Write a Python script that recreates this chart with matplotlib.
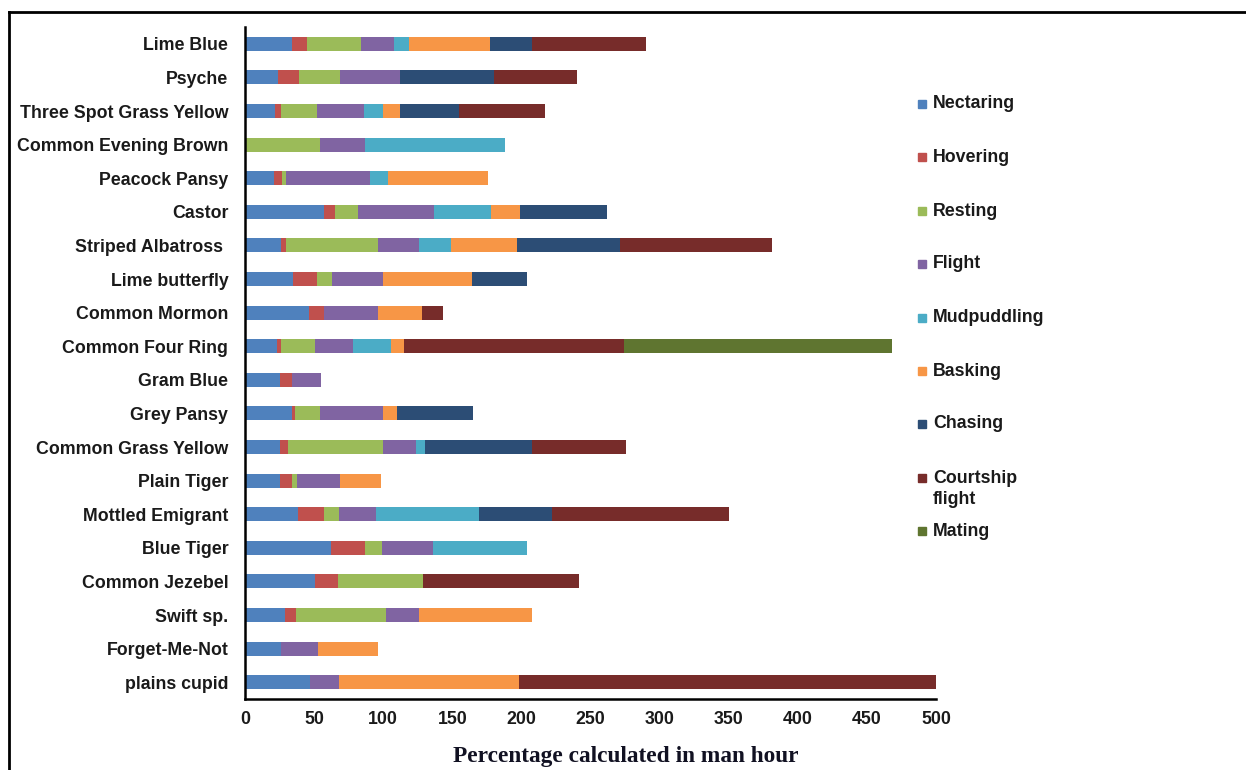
import numpy as np
import matplotlib.pyplot as plt
from matplotlib.patches import Rectangle
from matplotlib.lines import Line2D

# Species, top to bottom
species = ['Lime Blue', 'Psyche', 'Three Spot Grass Yellow', 'Common Evening Brown',
           'Peacock Pansy', 'Castor', 'Striped Albatross ', 'Lime butterfly',
           'Common Mormon', 'Common Four Ring', 'Gram Blue', 'Grey Pansy',
           'Common Grass Yellow', 'Plain Tiger', 'Mottled Emigrant', 'Blue Tiger',
           'Common Jezebel', 'Swift sp.', 'Forget-Me-Not', 'plains cupid']

# Behaviour time per species (percentage calculated in man hour)
nectaring   = [34, 24, 22, 0, 21, 57, 26, 35, 46, 23, 25, 34, 25, 25, 38, 62, 51, 29, 26, 47]
hovering    = [11, 15, 4, 0, 5.5, 8, 4, 17, 11, 3, 9, 2, 6, 9, 19, 25, 16, 8, 0, 0]
resting     = [39, 30, 26, 54, 3.5, 17, 66, 11, 0, 25, 0, 18, 69, 3.5, 11, 12, 62, 65, 0, 0]
flight      = [24, 43, 34, 33, 60.5, 55, 30, 37, 39, 27, 21, 46, 24, 31, 27, 37, 0, 24, 27, 21]
mudpuddling = [11, 0, 14, 101, 13, 41, 23, 0, 0, 28, 0, 0, 6.5, 0, 74, 68, 0, 0, 0, 0]
basking     = [58, 0, 12, 0, 72, 21, 48, 64, 32, 9, 0, 10, 0, 30, 0, 0, 0, 82, 43, 130]
chasing     = [31, 68, 43, 0, 0, 63, 74, 40, 0, 0, 0, 55, 77, 0, 53, 0, 0, 0, 0, 0]
courtship   = [82, 60, 62, 0, 0, 0, 110, 0, 15, 159, 0, 0, 68, 0, 128, 0, 113, 0, 0, 302]
mating      = [0, 0, 0, 0, 0, 0, 0, 0, 0, 194, 0, 0, 0, 0, 0, 0, 0, 0, 0, 0]

behaviours = ['Nectaring', 'Hovering', 'Resting', 'Flight', 'Mudpuddling',
              'Basking', 'Chasing', 'Courtship\nflight', 'Mating']
series = [nectaring, hovering, resting, flight, mudpuddling,
          basking, chasing, courtship, mating]
colors = ['#4F81BD', '#C0504D', '#9BBB59', '#8064A2', '#4BACC6',
          '#F79646', '#2C4D75', '#772C2A', '#5F7530']

plt.rcParams['font.family'] = ['Liberation Sans', 'DejaVu Sans']
W, H = 1246, 770
FS = 12.8

fig = plt.figure(figsize=(W / 100, H / 100), dpi=100)
ax = fig.add_axes([245 / W, 71 / H, 691 / W, 672 / H])

y = np.arange(len(species))
left = np.zeros(len(species))
for vals, col in zip(series, colors):
    vals = np.array(vals, dtype=float)
    ax.barh(y, vals, left=left, height=0.42, color=col, edgecolor='none')
    left += vals

ax.set_xlim(0, 500)
ax.set_ylim(len(species) - 0.5, -0.5)
ax.set_xticks(np.arange(0, 501, 50))
ax.set_yticks(y)
ax.set_yticklabels(species)
for lab in ax.get_yticklabels() + ax.get_xticklabels():
    lab.set_fontweight('bold')
    lab.set_fontsize(FS)
    lab.set_color('#1a1a1a')
ax.tick_params(axis='y', length=0, pad=12)
ax.tick_params(axis='x', length=0, pad=9)

for s in ['top', 'right']:
    ax.spines[s].set_visible(False)
for s in ['left', 'bottom']:
    ax.spines[s].set_linewidth(1.8)
    ax.spines[s].set_color('black')

ax.set_xlabel('Percentage calculated in man hour', family='Liberation Serif',
              fontweight='bold', fontsize=16.8, color='#111122')
ax.xaxis.set_label_coords((626 - 245) / 691, -0.07)

# legend drawn by hand so the two-line entry keeps its marker on the first line
legend_y = [104, 157, 211, 264, 318, 371, 424, 478, 531]
for name, col, py in zip(behaviours, colors, legend_y):
    fig.add_artist(Rectangle((918 / W, 1 - (py + 4) / H), 8 / W, 8 / H,
                             transform=fig.transFigure, color=col))
    if '\n' in name:
        fig.text(933 / W, 1 - (py - 8) / H, name, fontsize=FS, fontweight='bold',
                 color='#1a1a1a', va='top', ha='left', linespacing=1.3)
    else:
        fig.text(933 / W, 1 - py / H, name, fontsize=FS, fontweight='bold',
                 color='#1a1a1a', va='center', ha='left')

# outer frame
fig.add_artist(Line2D([9 / W, 9 / W], [0, 1 - 12 / H], color='black', lw=2))
fig.add_artist(Line2D([9 / W, 1], [1 - 12 / H, 1 - 12 / H], color='black', lw=2))

fig.savefig('out.png', dpi=100)
